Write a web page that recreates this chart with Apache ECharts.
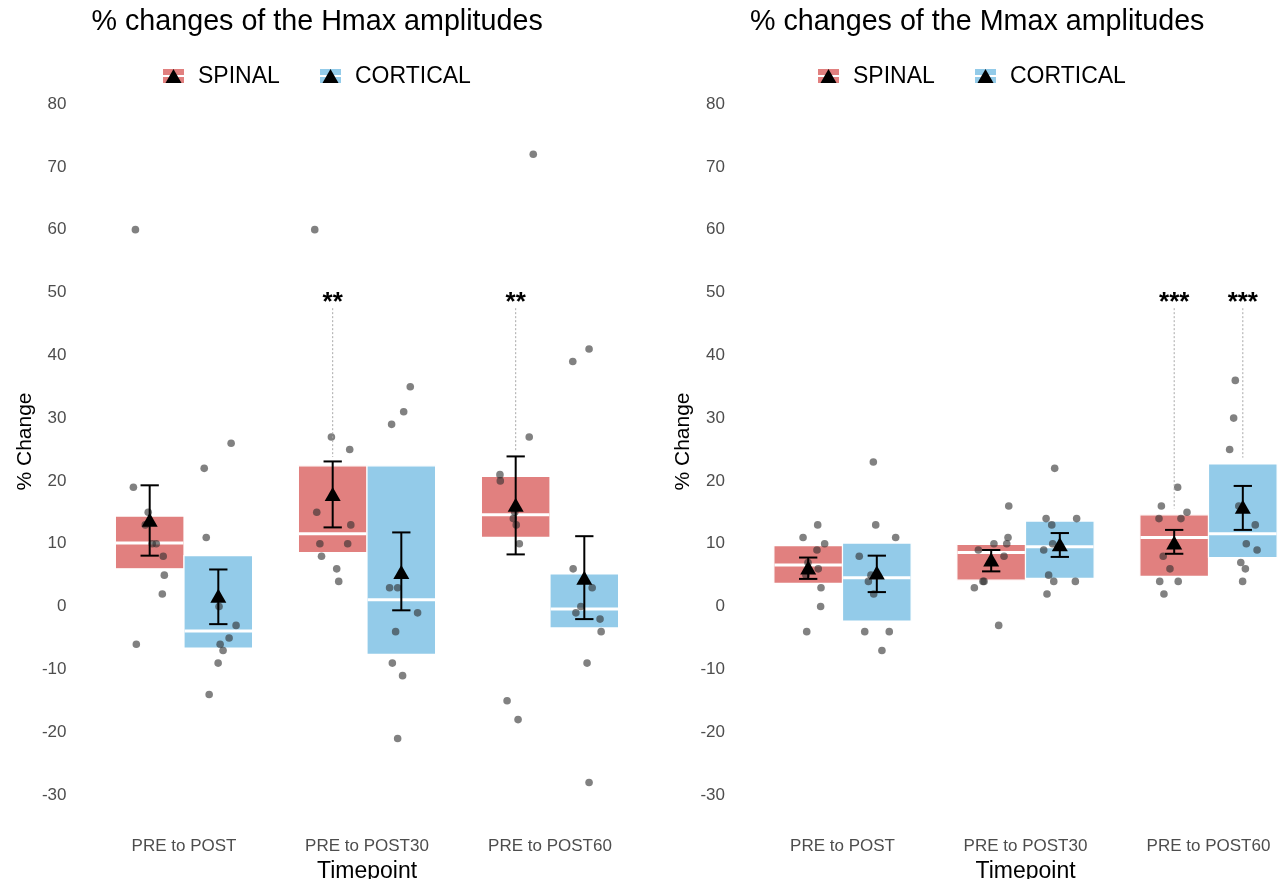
<!DOCTYPE html>
<html>
<head>
<meta charset="utf-8">
<title>% changes of the Hmax and Mmax amplitudes</title>
<script src="https://cdn.jsdelivr.net/npm/echarts@6/dist/echarts.min.js"></script>
<style>
  html, body { margin: 0; padding: 0; background: #ffffff; overflow: hidden; }
  #chart { width: 1284px; height: 879px; }
</style>
</head>
<body>
<div id="chart"></div>
<script>
// ---------- data ----------
const timepoints = ['PRE to POST', 'PRE to POST30', 'PRE to POST60'];
const groups = ['SPINAL', 'CORTICAL'];
const yMin = -30, yMax = 80, yStep = 10;

// Hmax: individual % changes per timepoint (10 participants per group)
const hmaxSpinalValues = [
  [60, 19, 15, 13, 10, 10, 8, 5, 2, -6],
  [60, 27, 25, 15, 13, 10, 10, 8, 6, 4],
  [72, 27, 21, 20, 15, 14, 13, 10, -15, -18]
];
const hmaxSpinalJitter = [
  [-0.078, -0.089, -0.008, -0.024, 0.014, 0.036, 0.074, 0.080, 0.069, -0.073],
  [-0.098, -0.007, 0.093, -0.087, 0.099, -0.070, 0.082, -0.061, 0.022, 0.033],
  [0.096, 0.074, -0.086, -0.084, -0.005, -0.013, 0.003, 0.020, -0.047, 0.013]
];
const hmaxCorticalValues = [
  [26, 22, 11, 0, -3, -5, -6, -7, -9, -14],
  [35, 31, 29, 3, 3, -1, -4, -9, -11, -21],
  [41, 39, 6, 3, 0, -1, -2, -4, -9, -28]
];
const hmaxCorticalJitter = [
  [0.070, -0.077, -0.066, 0.004, 0.097, 0.059, 0.010, 0.026, -0.001, -0.050],
  [0.049, 0.013, -0.053, -0.064, -0.020, 0.089, -0.031, -0.049, 0.007, -0.020],
  [0.026, -0.063, -0.061, 0.043, -0.019, -0.046, 0.086, 0.092, 0.015, 0.026]
];
// Hmax box (quartiles) and mean +/- SE
const hmaxSpinalQ1 = [6.0, 8.6, 11.0];
const hmaxSpinalMedian = [10.1, 11.6, 14.6];
const hmaxSpinalQ3 = [14.4, 22.4, 20.7];
const hmaxSpinalMean = [13.8, 17.9, 16.2];
const hmaxSpinalLow = [8.1, 12.6, 8.3];
const hmaxSpinalHigh = [19.3, 23.1, 23.9];
const hmaxCorticalQ1 = [-6.6, -7.6, -3.4];
const hmaxCorticalMedian = [-3.9, 1.1, -0.4];
const hmaxCorticalQ3 = [8.1, 22.4, 5.2];
const hmaxCorticalMean = [1.7, 5.5, 4.6];
const hmaxCorticalLow = [-2.8, -0.6, -2.0];
const hmaxCorticalHigh = [5.9, 11.8, 11.2];
// Hmax significance marks
const hmaxSigTimepoint = [1, 2];
const hmaxSigGroup = ['SPINAL', 'SPINAL'];
const hmaxSigText = ['**', '**'];
const hmaxSigLineEnd = [23.8, 24.6];

// Mmax: individual % changes per timepoint
const mmaxSpinalValues = [
  [13, 11, 10, 9, 7, 6, 5, 3, 0, -4],
  [16, 11, 10, 10, 9, 8, 4, 4, 3, -3],
  [19, 16, 15, 14, 14, 8, 6, 4, 4, 2]
];
const mmaxSpinalJitter = [
  [0.052, -0.028, 0.090, 0.048, -0.001, 0.055, -0.012, 0.070, 0.068, -0.008],
  [0.096, 0.092, 0.015, 0.085, -0.070, 0.070, -0.045, -0.039, -0.092, 0.041],
  [0.019, -0.070, 0.070, -0.083, 0.037, -0.060, -0.023, -0.079, 0.022, -0.056]
];
const mmaxCorticalValues = [
  [23, 13, 11, 8, 5, 4, 2, -4, -4, -7],
  [22, 14, 14, 13, 10, 9, 5, 4, 4, 2],
  [36, 30, 25, 16, 13, 10, 9, 7, 6, 4]
];
const mmaxCorticalJitter = [
  [-0.019, -0.006, 0.103, -0.096, -0.032, -0.046, -0.017, -0.066, 0.068, 0.028],
  [-0.028, -0.075, 0.092, -0.044, -0.039, -0.088, -0.061, -0.033, 0.085, -0.070],
  [-0.041, -0.050, -0.072, -0.022, 0.068, 0.019, 0.078, -0.011, 0.014, -0.001]
];
// Mmax box (quartiles) and mean +/- SE
const mmaxSpinalQ1 = [3.7, 4.2, 4.8];
const mmaxSpinalMedian = [6.6, 8.6, 11.0];
const mmaxSpinalQ3 = [9.7, 9.9, 14.6];
const mmaxSpinalMean = [6.2, 7.5, 10.2];
const mmaxSpinalLow = [4.4, 5.6, 8.4];
const mmaxSpinalHigh = [7.8, 9.0, 12.2];
const mmaxCorticalQ1 = [-2.3, 4.5, 7.8];
const mmaxCorticalMedian = [4.6, 9.5, 11.6];
const mmaxCorticalQ3 = [10.1, 13.6, 22.7];
const mmaxCorticalMean = [5.4, 9.9, 15.9];
const mmaxCorticalLow = [2.3, 7.9, 12.2];
const mmaxCorticalHigh = [8.1, 11.7, 19.2];
// Mmax significance marks
const mmaxSigTimepoint = [2, 2];
const mmaxSigGroup = ['SPINAL', 'CORTICAL'];
const mmaxSigText = ['***', '***'];
const mmaxSigLineEnd = [15.6, 23.7];

const sigLineStart = 47.5;
const sigTextLevel = 48.4;

// ---------- styling ----------
const FONT = '"Liberation Sans", Arial, Helvetica, sans-serif';
const groupColors = { SPINAL: '#E1807F', CORTICAL: '#93CBE9' };
const dodge = { SPINAL: -0.1875, CORTICAL: 0.1875 };
const BOX_W = 0.375;
const CAP_W = 0.1;
const TRI_W = 16, TRI_H = 14;

const panels = [
  {
    title: '% changes of the Hmax amplitudes',
    stats: {
      SPINAL: { values: hmaxSpinalValues, jitter: hmaxSpinalJitter, q1: hmaxSpinalQ1, med: hmaxSpinalMedian, q3: hmaxSpinalQ3, mean: hmaxSpinalMean, low: hmaxSpinalLow, high: hmaxSpinalHigh },
      CORTICAL: { values: hmaxCorticalValues, jitter: hmaxCorticalJitter, q1: hmaxCorticalQ1, med: hmaxCorticalMedian, q3: hmaxCorticalQ3, mean: hmaxCorticalMean, low: hmaxCorticalLow, high: hmaxCorticalHigh }
    },
    sig: { idx: hmaxSigTimepoint, group: hmaxSigGroup, text: hmaxSigText, end: hmaxSigLineEnd },
    gridLeft: 92.5, legendX: 163
  },
  {
    title: '% changes of the Mmax amplitudes',
    stats: {
      SPINAL: { values: mmaxSpinalValues, jitter: mmaxSpinalJitter, q1: mmaxSpinalQ1, med: mmaxSpinalMedian, q3: mmaxSpinalQ3, mean: mmaxSpinalMean, low: mmaxSpinalLow, high: mmaxSpinalHigh },
      CORTICAL: { values: mmaxCorticalValues, jitter: mmaxCorticalJitter, q1: mmaxCorticalQ1, med: mmaxCorticalMedian, q3: mmaxCorticalQ3, mean: mmaxCorticalMean, low: mmaxCorticalLow, high: mmaxCorticalHigh }
    },
    sig: { idx: mmaxSigTimepoint, group: mmaxSigGroup, text: mmaxSigText, end: mmaxSigLineEnd },
    gridLeft: 751, legendX: 818
  }
];

// ---------- series builders ----------
function groupSeries(panelIndex, group, s) {
  const off = dodge[group];
  const color = groupColors[group];
  const axes = { xAxisIndex: panelIndex, yAxisIndex: panelIndex, coordinateSystem: 'cartesian2d' };

  const boxData = timepoints.map((t, i) => [i, s.q1[i], s.med[i], s.q3[i]]);
  const pointData = [];
  s.values.forEach((arr, i) => arr.forEach((v, j) => pointData.push([i, v, s.jitter[i][j]])));
  const errData = timepoints.map((t, i) => [i, s.low[i], s.high[i]]);
  const meanData = timepoints.map((t, i) => [i, s.mean[i]]);

  return [
    {
      type: 'custom', name: group + ' box', ...axes, z: 1, silent: true,
      encode: { x: 0, y: [1, 2, 3] }, data: boxData,
      renderItem(params, api) {
        const lo = api.coord([api.value(0), api.value(1)]);
        const md = api.coord([api.value(0), api.value(2)]);
        const hi = api.coord([api.value(0), api.value(3)]);
        const band = api.size([1, 0])[0];
        const cx = lo[0] + off * band;
        const w = BOX_W * band;
        return {
          type: 'group',
          children: [
            { type: 'rect', shape: { x: cx - w / 2, y: hi[1], width: w, height: lo[1] - hi[1] },
              style: { fill: color, stroke: '#ffffff', lineWidth: 1.2 } },
            { type: 'line', shape: { x1: cx - w / 2 + 0.6, y1: md[1], x2: cx + w / 2 - 0.6, y2: md[1] },
              style: { stroke: '#ffffff', lineWidth: 3 } }
          ]
        };
      }
    },
    {
      type: 'custom', name: group + ' points', ...axes, z: 2, silent: true,
      encode: { x: 0, y: 1 }, data: pointData,
      renderItem(params, api) {
        const c = api.coord([api.value(0), api.value(1)]);
        const band = api.size([1, 0])[0];
        return {
          type: 'circle',
          shape: { cx: c[0] + (off + api.value(2)) * band, cy: c[1], r: 3.8 },
          style: { fill: 'rgba(45,45,45,0.6)' }
        };
      }
    },
    {
      type: 'custom', name: group + ' error', ...axes, z: 3, silent: true,
      encode: { x: 0, y: [1, 2] }, data: errData,
      renderItem(params, api) {
        const lo = api.coord([api.value(0), api.value(1)]);
        const hi = api.coord([api.value(0), api.value(2)]);
        const band = api.size([1, 0])[0];
        const cx = lo[0] + off * band;
        const hw = CAP_W * band / 2;
        const st = { stroke: '#000000', lineWidth: 2 };
        return {
          type: 'group',
          children: [
            { type: 'line', shape: { x1: cx, y1: lo[1], x2: cx, y2: hi[1] }, style: st },
            { type: 'line', shape: { x1: cx - hw, y1: lo[1], x2: cx + hw, y2: lo[1] }, style: st },
            { type: 'line', shape: { x1: cx - hw, y1: hi[1], x2: cx + hw, y2: hi[1] }, style: st }
          ]
        };
      }
    },
    {
      type: 'custom', name: group + ' mean', ...axes, z: 4, silent: true,
      encode: { x: 0, y: 1 }, data: meanData,
      renderItem(params, api) {
        const c = api.coord([api.value(0), api.value(1)]);
        const band = api.size([1, 0])[0];
        const cx = c[0] + off * band, cy = c[1];
        return {
          type: 'polygon',
          shape: { points: [[cx, cy - TRI_H / 2], [cx + TRI_W / 2, cy + TRI_H / 2], [cx - TRI_W / 2, cy + TRI_H / 2]] },
          style: { fill: '#000000' }
        };
      }
    }
  ];
}

function sigSeries(panelIndex, sig) {
  const data = sig.idx.map((t, k) => [t, sigLineStart, sig.end[k], sigTextLevel]);
  return {
    type: 'custom', name: 'significance', xAxisIndex: panelIndex, yAxisIndex: panelIndex, z: 5, silent: true,
    encode: { x: 0, y: [1, 2, 3] }, data,
    renderItem(params, api) {
      const k = params.dataIndex;
      const off = dodge[sig.group[k]];
      const top = api.coord([api.value(0), api.value(1)]);
      const bot = api.coord([api.value(0), api.value(2)]);
      const txt = api.coord([api.value(0), api.value(3)]);
      const band = api.size([1, 0])[0];
      const cx = top[0] + off * band;
      return {
        type: 'group',
        children: [
          { type: 'line', shape: { x1: cx, y1: top[1], x2: cx, y2: bot[1] },
            style: { stroke: '#a8a8a8', lineWidth: 1, lineDash: [2, 2] } },
          { type: 'text', x: cx, y: txt[1],
            style: { text: sig.text[k], fontSize: 26, fontWeight: 'bold', fontFamily: FONT, fill: '#000000', align: 'center', verticalAlign: 'middle' } }
        ]
      };
    }
  };
}

function legendGraphics(x0) {
  const out = [];
  const entries = [
    { g: 'SPINAL', kx: x0, tx: x0 + 35 },
    { g: 'CORTICAL', kx: x0 + 157, tx: x0 + 192 }
  ];
  entries.forEach(e => {
    out.push({ type: 'rect', shape: { x: e.kx, y: 69, width: 21, height: 14 }, style: { fill: groupColors[e.g] } });
    out.push({ type: 'line', shape: { x1: e.kx, y1: 76, x2: e.kx + 21, y2: 76 }, style: { stroke: '#ffffff', lineWidth: 2 } });
    out.push({ type: 'polygon', shape: { points: [[e.kx + 10.5, 69], [e.kx + 18.5, 83], [e.kx + 2.5, 83]] }, style: { fill: '#000000' } });
    out.push({ type: 'text', x: e.tx, y: 76.5,
      style: { text: e.g, fontSize: 23, fontFamily: FONT, fill: '#000000', align: 'left', verticalAlign: 'middle' } });
  });
  return out;
}

// ---------- option ----------
const option = {
  backgroundColor: '#ffffff',
  animation: false,
  textStyle: { fontFamily: FONT },
  title: panels.map(p => ({
    text: p.title, left: p.gridLeft - 1, top: 8, padding: 0,
    textStyle: { fontSize: 28.7, fontWeight: 'normal', color: '#000000', fontFamily: FONT }
  })),
  grid: panels.map(p => ({
    left: p.gridLeft, top: 104, width: 549, height: 691,
    containLabel: false, outerBoundsMode: 'none'
  })),
  xAxis: panels.map((p, i) => ({
    type: 'category', gridIndex: i, data: timepoints,
    axisLine: { show: false }, axisTick: { show: false }, splitLine: { show: false },
    axisLabel: { fontSize: 17, color: '#4d4d4d', margin: 43, fontFamily: FONT },
    name: 'Timepoint', nameLocation: 'middle', nameGap: 47,
    nameTextStyle: { fontSize: 23, color: '#000000', fontFamily: FONT }
  })),
  yAxis: panels.map((p, i) => ({
    type: 'value', gridIndex: i, min: yMin, max: yMax, interval: yStep,
    axisLine: { show: false }, axisTick: { show: false }, splitLine: { show: false },
    axisLabel: { fontSize: 17, color: '#4d4d4d', margin: 26, fontFamily: FONT },
    name: '% Change', nameLocation: 'middle', nameRotate: 90, nameGap: 57,
    nameTextStyle: { fontSize: 21, color: '#000000', fontFamily: FONT, padding: [0, 0, 0, 16] }
  })),
  graphic: panels.flatMap(p => legendGraphics(p.legendX)),
  series: panels.flatMap((p, i) => [
    ...groups.flatMap(g => groupSeries(i, g, p.stats[g])),
    sigSeries(i, p.sig)
  ])
};

const chart = echarts.init(document.getElementById('chart'));
chart.setOption(option);
</script>
</body>
</html>
